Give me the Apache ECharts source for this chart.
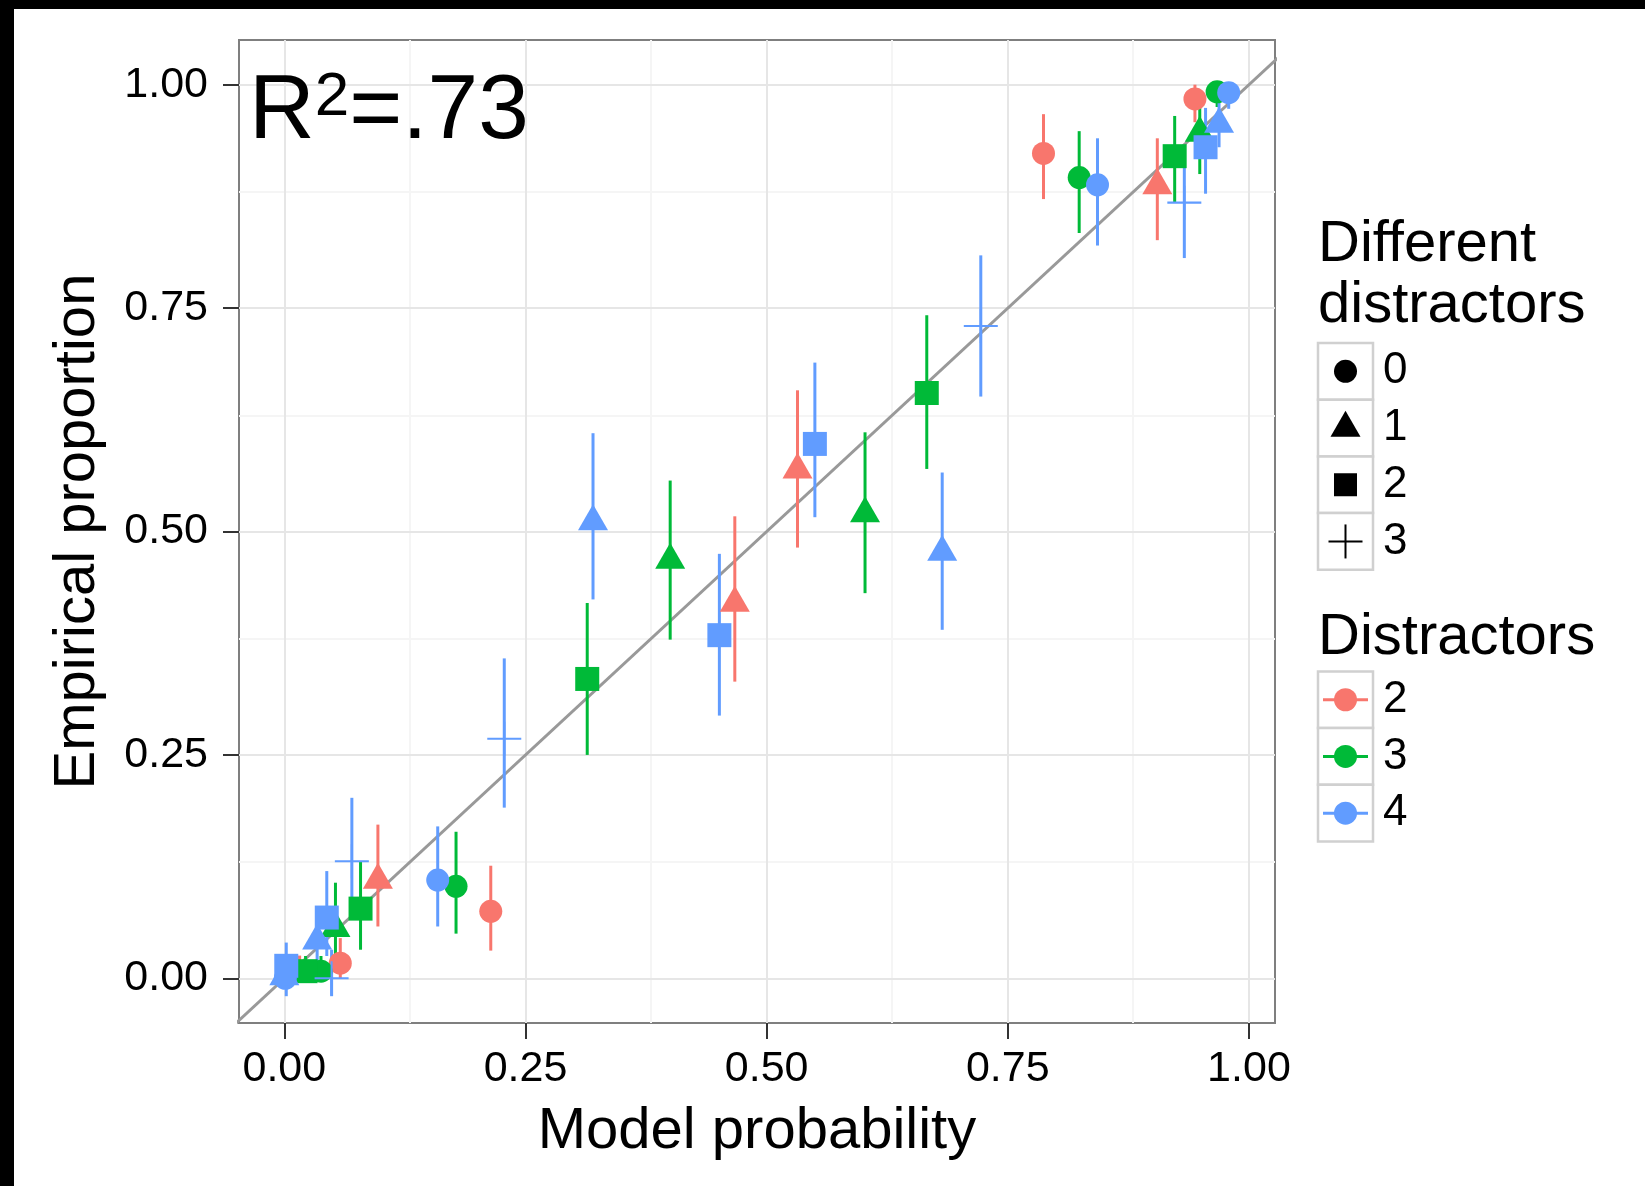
<!DOCTYPE html>
<html>
<head>
<meta charset="utf-8">
<script src="https://cdn.jsdelivr.net/npm/echarts@6/dist/echarts.min.js"></script>
<style>
html,body{margin:0;padding:0;background:#fff;}
#c{width:1645px;height:1186px;}
</style>
</head>
<body>
<div id="c"></div>
<script>
// ---------- data ----------
const xTicks = [0, 0.25, 0.5, 0.75, 1];
const yTicks = [0, 0.25, 0.5, 0.75, 1];
const minorTicks = [0.125, 0.375, 0.625, 0.875];
const refLine = [[-0.2, -0.2], [1.2, 1.2]];
const shapeLegend = ['0', '1', '2', '3'];
const colorLegend = ['2', '3', '4'];
const annotationParts = ['R', '2', '=.73'];

// rows: [model probability, empirical proportion, lower, upper]
const redCircle = [
  [0.787, 0.923, 0.872, 0.967],
  [0.944, 0.984, 0.958, 1.000],
  [0.214, 0.075, 0.031, 0.126],
  [0.058, 0.017, 0.000, 0.045]
];
const redTri = [
  [0.905, 0.887, 0.826, 0.940],
  [0.532, 0.569, 0.482, 0.658],
  [0.467, 0.420, 0.332, 0.517],
  [0.097, 0.110, 0.058, 0.172]
];
const redSquare = [
  [0.005, 0.012, 0.000, 0.026]
];
const greenCircle = [
  [0.967, 0.992, 0.975, 1.000],
  [0.824, 0.896, 0.834, 0.948],
  [0.178, 0.103, 0.050, 0.164],
  [0.038, 0.008, 0.000, 0.025]
];
const greenTri = [
  [0.949, 0.946, 0.900, 0.974],
  [0.602, 0.520, 0.431, 0.611],
  [0.400, 0.468, 0.379, 0.557],
  [0.053, 0.056, 0.023, 0.107]
];
const greenSquare = [
  [0.923, 0.920, 0.868, 0.965],
  [0.666, 0.655, 0.570, 0.742],
  [0.314, 0.335, 0.250, 0.420],
  [0.079, 0.078, 0.032, 0.131],
  [0.022, 0.008, 0.000, 0.025]
];
const blueCircle = [
  [0.979, 0.991, 0.973, 1.000],
  [0.843, 0.888, 0.820, 0.940],
  [0.159, 0.110, 0.058, 0.170],
  [0.001, 0.000, -0.010, 0.012]
];
const blueTri = [
  [0.969, 0.956, 0.930, 0.985],
  [0.320, 0.511, 0.424, 0.610],
  [0.682, 0.477, 0.390, 0.566],
  [0.034, 0.042, 0.010, 0.075],
  [0.000, 0.002, -0.010, 0.015]
];
const blueSquare = [
  [0.955, 0.930, 0.878, 0.974],
  [0.550, 0.598, 0.516, 0.689],
  [0.451, 0.384, 0.294, 0.475],
  [0.044, 0.068, 0.025, 0.120],
  [0.002, 0.014, -0.020, 0.040]
];
const bluePlus = [
  [0.933, 0.868, 0.806, 0.911],
  [0.722, 0.730, 0.651, 0.809],
  [0.228, 0.268, 0.191, 0.358],
  [0.070, 0.131, 0.077, 0.202],
  [0.049, 0.000, -0.020, 0.032]
];

// ---------- styling ----------
const FONT = '"Liberation Sans", Arial, Helvetica, sans-serif';
const RED = '#F8766D', GREEN = '#00BA38', BLUE = '#619CFF';
const PLUS_PATH = 'path://M-1,-0.06L1,-0.06L1,0.06L-1,0.06Z M-0.06,-1L0.06,-1L0.06,1L-0.06,1Z';
const SHAPES = {
  circle: {symbol: 'circle', symbolSize: 23, symbolOffset: [0, 0]},
  tri: {symbol: 'triangle', symbolSize: [30, 26], symbolOffset: [0, -4.3]},
  square: {symbol: 'rect', symbolSize: 24, symbolOffset: [0, 0]},
  plus: {symbol: PLUS_PATH, symbolSize: 34, symbolOffset: [0, 0]}
};

function errorBars(rows, color) {
  return {
    type: 'custom', data: rows, z: 3, silent: true, animation: false, clip: true,
    encode: {x: 0, y: [1, 2, 3]},
    renderItem: function (params, api) {
      const x = api.value(0);
      const a = api.coord([x, api.value(2)]);
      const b = api.coord([x, api.value(3)]);
      return {type: 'line', shape: {x1: a[0], y1: a[1], x2: b[0], y2: b[1]},
              style: {stroke: color, lineWidth: 3}};
    }
  };
}
function points(rows, color, shape) {
  const s = SHAPES[shape];
  return {
    type: 'scatter', data: rows.map(r => [r[0], r[1]]), z: 3, silent: true, animation: false,
    symbol: s.symbol, symbolSize: s.symbolSize, symbolOffset: s.symbolOffset,
    itemStyle: {color: color, opacity: 1, borderWidth: 0}
  };
}

const groups = [
  {color: RED, sets: [[redCircle, 'circle'], [redTri, 'tri'], [redSquare, 'square']]},
  {color: GREEN, sets: [[greenCircle, 'circle'], [greenTri, 'tri'], [greenSquare, 'square']]},
  {color: BLUE, sets: [[blueCircle, 'circle'], [blueTri, 'tri'], [blueSquare, 'square'], [bluePlus, 'plus']]}
];

const major = {color: '#e6e6e6', width: 2, type: 'solid'};
const minor = {color: '#f5f5f5', width: 2, type: 'solid'};
const gridMarks = []
  .concat(minorTicks.map(v => ({xAxis: v, lineStyle: minor})))
  .concat(minorTicks.map(v => ({yAxis: v, lineStyle: minor})))
  .concat(xTicks.map(v => ({xAxis: v, lineStyle: major})))
  .concat(yTicks.map(v => ({yAxis: v, lineStyle: major})));

const series = [
  {
    type: 'line', data: refLine, z: 1, silent: true, animation: false, symbol: 'none',
    lineStyle: {width: 0, opacity: 0},
    markLine: {silent: true, animation: false, symbol: ['none', 'none'], z: 1,
               label: {show: false}, data: gridMarks}
  },
  {
    type: 'line', data: refLine, z: 2, silent: true, animation: false, symbol: 'none', clip: true,
    lineStyle: {color: '#999999', width: 3}
  }
];
groups.forEach(g => {
  const all = [];
  g.sets.forEach(s => s[0].forEach(r => all.push(r)));
  series.push(errorBars(all, g.color));
  g.sets.forEach(s => series.push(points(s[0], g.color, s[1])));
});

// ---------- legend (drawn as graphics) ----------
const keyX = 1318, keyW = 55, rowH = 56.7;
const shapeTop = 343, colorTop = 671.4;
const graphics = [
  {type: 'rect', shape: {x: 0, y: 0, width: 1645, height: 9}, style: {fill: '#000'}, z: 100},
  {type: 'rect', shape: {x: 0, y: 0, width: 14, height: 1186}, style: {fill: '#000'}, z: 100},
  {type: 'text', x: 249, y: 67, z: 100,
   style: {
     text: '{a|' + annotationParts[0] + '}{b|' + annotationParts[1] + '}{a|' + annotationParts[2] + '}',
     verticalAlign: 'top', align: 'left',
     rich: {
       a: {fontSize: 91, fontFamily: FONT, color: '#000', lineHeight: 91, verticalAlign: 'top'},
       b: {fontSize: 62, fontFamily: FONT, color: '#000', lineHeight: 76, verticalAlign: 'top'}
     }
   }},
  {type: 'text', x: 1318, y: 245, z: 100,
   style: {text: 'Different', font: '58px ' + FONT, fill: '#000', verticalAlign: 'middle'}},
  {type: 'text', x: 1318, y: 306, z: 100,
   style: {text: 'distractors', font: '58px ' + FONT, fill: '#000', verticalAlign: 'middle'}},
  {type: 'text', x: 1318, y: 638, z: 100,
   style: {text: 'Distractors', font: '58px ' + FONT, fill: '#000', verticalAlign: 'middle'}}
];
shapeLegend.forEach((lab, i) => {
  const y0 = shapeTop + i * rowH, cx = keyX + keyW / 2, cy = y0 + rowH / 2;
  graphics.push({type: 'rect', z: 100, shape: {x: keyX, y: y0, width: keyW, height: rowH},
                 style: {fill: '#fff', stroke: '#d0d0d0', lineWidth: 2.5}});
  let sym;
  if (i === 0) sym = {type: 'circle', shape: {cx: cx, cy: cy, r: 11.5}, style: {fill: '#000'}};
  else if (i === 1) sym = {type: 'polygon', shape: {points: [[cx, cy - 17.3], [cx + 15, cy + 8.7], [cx - 15, cy + 8.7]]}, style: {fill: '#000'}};
  else if (i === 2) sym = {type: 'rect', shape: {x: cx - 11.5, y: cy - 11.5, width: 23, height: 23}, style: {fill: '#000'}};
  else sym = {type: 'group', children: [
    {type: 'line', shape: {x1: cx - 17, y1: cy, x2: cx + 17, y2: cy}, style: {stroke: '#000', lineWidth: 2}},
    {type: 'line', shape: {x1: cx, y1: cy - 17, x2: cx, y2: cy + 17}, style: {stroke: '#000', lineWidth: 2}}]};
  sym.z = 101;
  if (sym.children) sym.children.forEach(c => c.z = 101);
  graphics.push(sym);
  graphics.push({type: 'text', x: 1383, y: cy, z: 101,
                 style: {text: lab, font: '44px ' + FONT, fill: '#000', verticalAlign: 'middle'}});
});
[RED, GREEN, BLUE].forEach((col, i) => {
  const y0 = colorTop + i * rowH, cx = keyX + keyW / 2, cy = y0 + rowH / 2;
  graphics.push({type: 'rect', z: 100, shape: {x: keyX, y: y0, width: keyW, height: rowH},
                 style: {fill: '#fff', stroke: '#d0d0d0', lineWidth: 2.5}});
  graphics.push({type: 'line', z: 101, shape: {x1: keyX + 5, y1: cy, x2: keyX + keyW - 5, y2: cy},
                 style: {stroke: col, lineWidth: 3}});
  graphics.push({type: 'circle', z: 102, shape: {cx: cx, cy: cy, r: 11.5}, style: {fill: col}});
  graphics.push({type: 'text', x: 1383, y: cy, z: 101,
                 style: {text: colorLegend[i], font: '44px ' + FONT, fill: '#000', verticalAlign: 'middle'}});
});

// ---------- chart ----------
const chart = echarts.init(document.getElementById('c'), null, {renderer: 'canvas'});
const axisCommon = {
  type: 'value',
  splitLine: {show: false},
  axisLine: {show: false, onZero: false},
  nameLocation: 'middle',
  nameTextStyle: {fontSize: 58, fontFamily: FONT, color: '#000'}
};
chart.setOption({
  animation: false,
  backgroundColor: '#fff',
  grid: {left: 239, top: 40, width: 1036, height: 983, show: true,
         borderColor: '#7f7f7f', borderWidth: 2, backgroundColor: '#fff'},
  xAxis: Object.assign({}, axisCommon, {
    min: -0.047, max: 1.027,
    name: 'Model probability', nameGap: 80,
    axisTick: {show: true, length: 16, customValues: xTicks, lineStyle: {color: '#333', width: 2}},
    axisLabel: {customValues: xTicks, formatter: v => v.toFixed(2), fontSize: 43,
                fontFamily: FONT, color: '#000', margin: 25}
  }),
  yAxis: Object.assign({}, axisCommon, {
    min: -0.05, max: 1.05,
    name: 'Empirical proportion', nameGap: 132,
    axisTick: {show: true, length: 16, customValues: yTicks, lineStyle: {color: '#333', width: 2}},
    axisLabel: {customValues: yTicks, formatter: v => v.toFixed(2), fontSize: 43,
                fontFamily: FONT, color: '#000', margin: 31}
  }),
  graphic: graphics,
  series: series
});
</script>
</body>
</html>
